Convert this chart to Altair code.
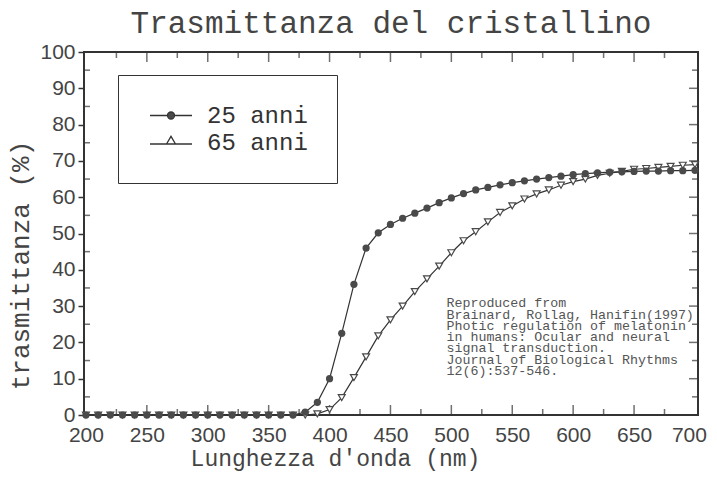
import altair as alt
import pandas as pd

# ---------------- data ----------------
wavelength = [200, 210, 220, 230, 240, 250, 260, 270, 280, 290,
              300, 310, 320, 330, 340, 350, 360, 370, 380, 390,
              400, 410, 420, 430, 440, 450, 460, 470, 480, 490,
              500, 510, 520, 530, 540, 550, 560, 570, 580, 590,
              600, 610, 620, 630, 640, 650, 660, 670, 680, 690, 700]

t25 = [0, 0, 0, 0, 0, 0, 0, 0, 0, 0,
       0, 0, 0, 0, 0, 0, 0, 0, 0.8, 3.5,
       10, 22.5, 36, 46, 50.2, 52.5, 54.2, 55.6, 57, 58.5,
       59.8, 61, 62, 62.7, 63.4, 64, 64.5, 65, 65.4, 65.8,
       66.2, 66.5, 66.7, 66.9, 67, 67.1, 67.2, 67.2, 67.3, 67.3, 67.4]

t65 = [0, 0, 0, 0, 0, 0, 0, 0, 0, 0,
       0, 0, 0, 0, 0, 0, 0, 0, 0, 0.3,
       1.5, 4.8, 10.3, 16, 21.8, 26.2, 30, 34, 37.5, 41,
       44.7, 48, 50.5, 53.2, 55.8, 57.6, 59.5, 60.9, 62, 63.3,
       64.3, 65, 66, 66.6, 67.1, 67.7, 67.9, 68.2, 68.5, 68.8, 69]

series_names = ["25 anni", "65 anni"]

x_labels = [200, 250, 300, 350, 400, 450, 500, 550, 600, 650, 700]
y_labels = [0, 10, 20, 30, 40, 50, 60, 70, 80, 90, 100]
x_major_inner = [250, 300, 350, 400, 450, 500, 550, 600, 650]
x_minor_inner = [225, 275, 325, 375, 425, 475, 525, 575, 625, 675]
y_major_inner = [10, 20, 30, 40, 50, 60, 70, 80, 90]
y_minor_inner = [5, 15, 25, 35, 45, 55, 65, 75, 85, 95]

citation = ["Reproduced from",
            "Brainard, Rollag, Hanifin(1997)",
            "Photic regulation of melatonin",
            "in humans: Ocular and neural",
            "signal transduction.",
            "Journal of Biological Rhythms",
            "12(6):537-546."]
citation_x = 496
citation_y = 32.7

# ---------------- layout ----------------
W, H = 614, 363
INK = "#333333"
GRAY = "#4a4a4a"

df = pd.DataFrame({
    "wl": wavelength * 2,
    "t": t25 + t65,
    "serie": [series_names[0]] * len(wavelength) + [series_names[1]] * len(wavelength),
})
df25 = df[df.serie == series_names[0]]
df65 = df[df.serie == series_names[1]]

xs = alt.Scale(domain=[198.4, 702.5], nice=False, zero=False)
ys = alt.Scale(domain=[0, 100], nice=False, zero=False)

x_axis = alt.Axis(values=x_labels, ticks=False, domain=False, grid=False,
                  labelFont="Liberation Sans", labelFontSize=21, labelColor="#444",
                  labelPadding=9, labelFlush=False, labelOverlap=False,
                  labelOffset={"condition": {"test": "datum.value == 700", "value": -6},
                               "value": 0},
                  title="Lunghezza d'onda (nm)", titleFont="Liberation Mono",
                  titleFontSize=23, titleFontWeight="normal", titleColor="#444",
                  titleX=251, titleY=50, titleBaseline="alphabetic", titleAlign="center")
y_axis = alt.Axis(values=y_labels, ticks=True, tickSize=6, tickWidth=1.5, tickColor=INK,
                  domain=False, grid=False, labelOverlap=False,
                  labelFont="Liberation Sans", labelFontSize=21, labelColor="#444",
                  labelPadding=3, labelFlush=False,
                  title="trasmittanza (%)", titleFont="Liberation Mono",
                  titleFontSize=26, titleFontWeight="normal", titleColor="#444",
                  titleX=-56, titleY=213, titleAngle=270, titleBaseline="alphabetic",
                  titleAlign="center")

def X(field):
    return alt.X(field, scale=xs, axis=x_axis)

def Y(field):
    return alt.Y(field, scale=ys, axis=y_axis)

lines = alt.Chart(df).mark_line(color=INK, strokeWidth=1.2).encode(
    x=X("wl:Q"), y=Y("t:Q"), detail="serie:N",
)

tri = alt.Chart(df65).mark_point(shape="triangle-down", filled=False, fill="white",
                                 stroke=GRAY, strokeWidth=1.2, size=48, opacity=1).encode(
    x=X("wl:Q"), y=Y("t:Q"))

dots = alt.Chart(df25).mark_point(shape="circle", filled=True, color=GRAY,
                                  size=52, opacity=1).encode(
    x=X("wl:Q"), y=Y("t:Q"))

# legend (custom symbols: line + marker), symbol unit = 10 px
path25 = ("M-0.85,0L0.9,0M1.6,0L3.35,0"
          "M0.9,0A0.35,0.35 0 1,0 1.6,0A0.35,0.35 0 1,0 0.9,0Z")
path65 = ("M-0.85,0.15L0.8,0.15M1.7,0.15L3.35,0.15"
          "M0.8,0.15L1.7,0.15L1.25,-0.62Z")
leg = alt.Legend(orient="none", legendX=34, legendY=23, padding=28.5,
                 fillColor="white", strokeColor=INK, title=None,
                 labelFont="Liberation Mono", labelFontSize=24, labelColor="#333",
                 labelOffset=36.5, labelExpr="datum.label + '  '",
                 symbolSize=400, symbolStrokeWidth=1.3, symbolStrokeColor=INK,
                 symbolOpacity=1, rowPadding=3)
legend_layer = alt.Chart(df).transform_filter("datum.t < -1000").mark_point(
    filled=False, strokeWidth=1.3).encode(
    x=X("wl:Q"), y=Y("t:Q"),
    shape=alt.Shape("serie:N", scale=alt.Scale(domain=series_names, range=[path25, path65]),
                    legend=leg),
    fill=alt.Fill("serie:N", scale=alt.Scale(domain=series_names, range=[GRAY, "white"]),
                  legend=leg),
    stroke=alt.Stroke("serie:N", scale=alt.Scale(domain=series_names, range=[INK, INK]),
                      legend=leg),
)

# inner ticks
def vticks(vals, ypix, size):
    return alt.Chart(pd.DataFrame({"v": vals})).mark_tick(
        orient="vertical", size=size, thickness=1.5, color=INK).encode(
        x=X("v:Q"), y=alt.value(ypix))

def hticks(vals, xpix, size):
    return alt.Chart(pd.DataFrame({"v": vals})).mark_tick(
        orient="horizontal", size=size, thickness=1.5, color=INK).encode(
        y=Y("v:Q"), x=alt.value(xpix))

ticks = [
    vticks(x_major_inner, 5, 10), vticks(x_minor_inner, 3, 6),
    vticks(x_major_inner, H - 5, 10), vticks(x_minor_inner, H - 3, 6),
    hticks(y_major_inner, W - 4.5, 9), hticks(y_minor_inner, W - 3, 6),
    hticks(y_minor_inner, 3, 6),
]

cite = alt.Chart(pd.DataFrame({"a": [0]})).mark_text(
    text=citation, align="left", baseline="top", font="Liberation Mono",
    fontSize=13.3, lineHeight=11.3, color="#555").encode(
    x=alt.X(datum=citation_x, scale=xs, axis=x_axis),
    y=alt.Y(datum=citation_y, scale=ys, axis=y_axis))

chart = alt.layer(lines, *ticks, tri, dots, cite, legend_layer).properties(
    width=W, height=H,
    title=alt.TitleParams("Trasmittanza del cristallino", font="Liberation Mono",
                          fontSize=31, fontWeight="normal", color="#444",
                          anchor="middle", offset=8, dy=7),
    autosize=alt.AutoSizeParams(type="none"),
    padding={"left": 76, "top": 44, "right": 11, "bottom": 57},
    background="white",
).configure_view(stroke=INK, strokeWidth=2).configure_axis(labelOverlap=False)

chart.save("out.html", embed_options={"renderer": "svg", "actions": False})
